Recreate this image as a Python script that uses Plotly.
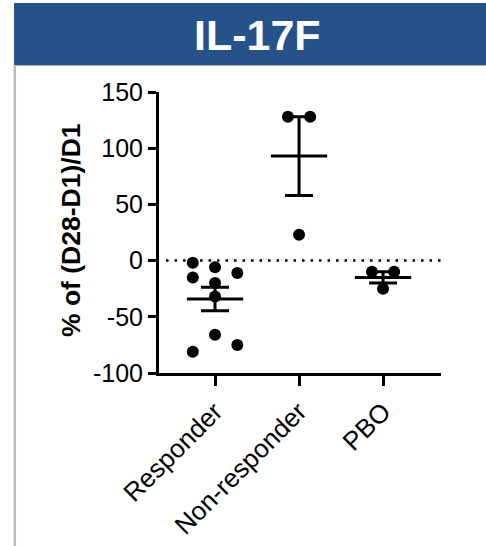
import numpy as np
import plotly.graph_objects as go

# ---------------- data ----------------
categories = ["Responder", "Non-responder", "PBO"]
responder = [-2, -15, -81, -6, -20, -32, -66, -11, -75]
non_responder = [128, 128, 23]
pbo = [-10, -10, -25]
y_tick_values = [-100, -50, 0, 50, 100, 150]
y_tick_labels = ["-100", "-50", "0", "50", "100", "150"]
y_title = "% of (D28-D1)/D1"
panel_title = "IL-17F"

groups = [responder, non_responder, pbo]

# ---------------- style / layout ----------------
W, H = 486, 546
L, R, T, B = 159, 45, 92, 173
FONT = "Liberation Sans, Arial, sans-serif"
HEADER_BLUE = "#255389"
# horizontal slot (beeswarm column) of each point, in marker-spacing units
jitter_slots = [
    [-1, -1, -1, 0, 0, 0, 0, 1, 1],
    [-0.5, 0.5, 0],
    [-0.5, 0.5, 0],
]
slot_step = 0.265      # category units per slot
mean_half = 0.335      # half width of mean line (category units)
cap_px = 14            # half width of SEM cap (px)

fig = go.Figure()

for i, (vals, slots) in enumerate(zip(groups, jitter_slots)):
    v = np.array(vals, dtype=float)
    xs = [i + s * slot_step for s in slots]
    fig.add_trace(go.Scatter(
        x=xs, y=v, mode="markers",
        marker=dict(color="black", size=12, line=dict(width=0)),
        showlegend=False, hoverinfo="y"))
    mean = v.mean()
    sem = v.std(ddof=1) / np.sqrt(len(v))
    # mean line
    fig.add_trace(go.Scatter(
        x=[i - mean_half, i + mean_half], y=[mean, mean], mode="lines",
        line=dict(color="black", width=3), showlegend=False, hoverinfo="skip"))
    # SEM whiskers
    fig.add_trace(go.Scatter(
        x=[i], y=[mean], mode="markers",
        marker=dict(size=0.1, color="rgba(0,0,0,0)"),
        error_y=dict(type="data", array=[sem], symmetric=True,
                     color="black", thickness=3, width=cap_px),
        showlegend=False, hoverinfo="skip"))

# dotted zero line
fig.add_shape(type="line", xref="paper", yref="y", x0=0.025, x1=1, y0=0, y1=0,
              line=dict(color="black", width=2.5, dash="2.5px,6px"), layer="below")

# header band
pw = W - L - R
ph = H - T - B
def px_x(p):
    return (p - L) / pw
def px_y(p):
    return (H - B - p) / ph

fig.add_shape(type="rect", xref="paper", yref="paper",
              x0=px_x(14), x1=px_x(W + 5), y0=px_y(65), y1=px_y(3),
              fillcolor=HEADER_BLUE, line=dict(width=0), layer="above")
fig.add_shape(type="line", xref="paper", yref="paper",
              x0=px_x(14), x1=px_x(W + 5), y0=px_y(65.5), y1=px_y(65.5),
              line=dict(color="#b0b0b0", width=1.2))
fig.add_shape(type="line", xref="paper", yref="paper",
              x0=px_x(14.8), x1=px_x(14.8), y0=px_y(65), y1=px_y(H + 5),
              line=dict(color="#bdbdbd", width=2.5))

fig.add_annotation(text="<b>" + panel_title + "</b>", xref="paper", yref="paper",
                   x=px_x(257), y=px_y(35), xanchor="center", yanchor="middle",
                   showarrow=False, font=dict(family=FONT, size=43, color="white"))

fig.add_annotation(text="<b>" + y_title + "</b>", xref="paper", yref="paper",
                   x=px_x(71), y=px_y(230), xanchor="center", yanchor="middle",
                   textangle=-90, showarrow=False,
                   font=dict(family=FONT, size=26.5, color="black"))

fig.update_layout(
    width=W, height=H,
    margin=dict(l=L, r=R, t=T, b=B, pad=0, autoexpand=False),
    paper_bgcolor="white", plot_bgcolor="white",
    font=dict(family=FONT, color="black"),
    xaxis=dict(
        range=[-0.667, 2.69], tickmode="array", tickvals=list(range(len(categories))),
        ticktext=categories, tickangle=-45, ticks="outside", ticklen=10,
        tickwidth=3, tickcolor="black", showline=True, linewidth=3, linecolor="black",
        showgrid=False, zeroline=False, tickfont=dict(size=26, family=FONT),
        automargin=False, fixedrange=True),
    yaxis=dict(
        range=[-100, 150], tickmode="array", tickvals=y_tick_values,
        ticktext=y_tick_labels,
        ticks="outside", ticklen=8, tickwidth=3, tickcolor="black",
        showline=True, linewidth=3, linecolor="black", showgrid=False,
        zeroline=False, tickfont=dict(size=25, family=FONT),
        automargin=False, fixedrange=True),
)

fig.write_html("out.html")
